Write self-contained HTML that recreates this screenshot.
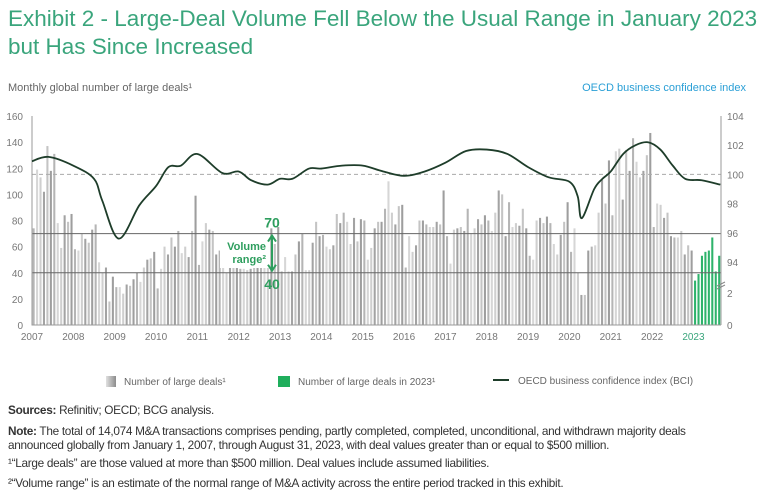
<!DOCTYPE html>
<html><head><meta charset="utf-8">
<style>
body{margin:0;width:768px;height:500px;background:#fff;font-family:"Liberation Sans",sans-serif;overflow:hidden;position:relative}
.t{position:absolute;white-space:nowrap}
#title{left:8px;top:5px;color:#3aa57c;font-size:22.5px;line-height:28px;letter-spacing:0}
.foot{font-size:11.8px;color:#333;letter-spacing:-0.3px;left:8px}
</style></head><body>
<div class="t" id="title">Exhibit 2 - Large-Deal Volume Fell Below the Usual Range in January 2023<br>but Has Since Increased</div>
<div class="t" style="left:8px;top:82px;font-size:11px;color:#666">Monthly global number of large deals¹</div>
<div class="t" style="right:22px;top:82px;font-size:11px;color:#2a9fd6">OECD business confidence index</div>
<svg id="chart" width="768" height="400" style="position:absolute;left:0;top:0"></svg>
<div class="t" style="left:106px;top:376px;font-size:10px;color:#666"><span style="display:inline-block;width:10px;height:11px;background:linear-gradient(90deg,#e0e0e0,#8c8c8c);vertical-align:-2px;margin-right:8px"></span>Number of large deals¹</div>
<div class="t" style="left:278px;top:376px;font-size:10px;color:#666"><span style="display:inline-block;width:12px;height:11px;background:#1fae5c;vertical-align:-2px;margin-right:8px"></span>Number of large deals in 2023¹</div>
<div class="t" style="left:493px;top:376px;font-size:10px;color:#666"><span style="display:inline-block;width:16px;height:2px;background:#1e3d2a;vertical-align:3px;margin-right:9px"></span>OECD business confidence index (BCI)</div>
<div class="t foot" style="top:403px"><b>Sources:</b> Refinitiv; OECD; BCG analysis.</div>
<div class="t foot" style="top:424px;line-height:14px"><b>Note:</b> The total of 14,074 M&amp;A transactions comprises pending, partly completed, completed, unconditional, and withdrawn majority deals<br>announced globally from January 1, 2007, through August 31, 2023, with deal values greater than or equal to $500 million.</div>
<div class="t foot" style="top:456px">¹“Large deals” are those valued at more than $500 million. Deal values include assumed liabilities.</div>
<div class="t foot" style="top:476px">²“Volume range” is an estimate of the normal range of M&amp;A activity across the entire period tracked in this exhibit.</div>
<script>
const deals=[74,119,113,102,137,118,131,78,59,84,79,85,
58,57,70,66,63,73,77,48,40,44,18,37,
29,29,24,31,30,35,40,33,44,50,51,56,
28,43,60,54,67,60,72,55,60,52,72,99,
46,64,78,73,72,54,57,57,40,44,44,49,
43,43,42,43,45,48,67,47,45,74,62,75,
41,52,41,41,54,64,70,42,42,63,79,68,
69,60,58,61,85,78,86,79,62,82,64,81,
80,50,59,74,79,79,89,110,86,77,91,92,
44,68,56,61,80,80,77,75,75,79,77,103,
68,47,73,74,75,72,89,70,74,81,77,84,
80,72,86,103,100,68,94,75,78,76,89,74,
53,50,80,82,78,83,78,62,54,69,79,94,
56,74,40,23,23,57,60,61,86,111,93,126,
84,133,135,96,134,118,143,125,113,118,130,147,
75,93,92,82,86,68,67,67,72,54,61,57,
34,39,53,56,57,67,41,53];
const bciT=[2007,2007.4,2008,2008.5,2008.7,2009.1,2009.6,2010,2010.3,2010.6,2011,2011.6,2012,2012.3,2012.7,2013,2013.3,2013.7,2014,2014.5,2015,2015.5,2016,2016.5,2017,2017.5,2018,2018.5,2019,2019.5,2020,2020.2,2020.3,2020.6,2020.8,2021,2021.3,2021.6,2021.9,2022.2,2022.5,2022.8,2023.2,2023.65];
const bciV=[100.9,101.2,100.6,99.7,98.2,95.6,97.9,99.2,100.5,100.6,101.4,100.1,100.2,99.6,99.3,99.7,99.7,100.4,100.4,100.6,100.6,100.2,99.9,100.2,100.8,101.6,101.7,101.4,100.5,99.8,99.5,98.5,97.0,99.0,99.7,100.2,101.4,102.0,102.2,101.7,100.6,99.7,99.6,99.3];
const leftTicks=[0,20,40,60,80,100,120,140,160];
const rightTicks=[104,102,100,98,96,94];
const years=[2007,2008,2009,2010,2011,2012,2013,2014,2015,2016,2017,2018,2019,2020,2021,2022,2023];
const X0=32,X1=721,Y0=325,Y1=116;
const yL=v=>Y0-(v/160)*(Y0-Y1);
const yR=v=>Y1+(104-v)*14.6;
const n=deals.length,step=(X1-X0)/n;
const xT=t=>X0+(t-2007)*12*step;
const svg=document.getElementById('chart');const NS='http://www.w3.org/2000/svg';
function mk(tag,at){const e=document.createElementNS(NS,tag);for(const k in at)e.setAttribute(k,at[k]);svg.appendChild(e);return e;}
deals.forEach((v,i)=>{const yr=2007+Math.floor(i/12);const g=yr===2023;
const shade=['#b5b5b5','#d6d6d6','#cfcfcf','#a3a3a3','#c4c4c4','#9e9e9e'][i%6];
const r=mk('rect',{x:X0+i*step+0.6,y:yL(v),width:step*0.6,height:Y0-yL(v),fill:g?'#2eb36b':shade});

});
[70,40].forEach(v=>{const l=mk('line',{x1:X0,x2:X1,y1:yL(v),y2:yL(v),stroke:'#666','stroke-width':1});
});
const d=mk('line',{x1:X0,x2:X1,y1:yR(100),y2:yR(100),stroke:'#aaa','stroke-dasharray':'4,3'});

const ax=mk('path',{d:`M${X0},${Y1}V${Y0}H${X1}M${X1},${Y1}V${Y0}`,stroke:'#999',fill:'none'});

leftTicks.forEach(v=>{const t=mk('text',{x:23,y:yL(v)+4,'text-anchor':'end','font-size':10,fill:'#777'});t.textContent=v;
});
rightTicks.forEach(v=>{const t=mk('text',{x:727,y:yR(v)+4,'font-size':10,fill:'#777'});t.textContent=v;
});
[[2,297],[0,329]].forEach(p=>{const t=mk('text',{x:727,y:p[1],'font-size':10,fill:'#777'});t.textContent=p[0];
});
const br=mk('path',{d:`M${X1-4},${286}L${X1+4},${282}M${X1-4},${289}L${X1+4},${285}`,stroke:'#888','stroke-width':1});

years.forEach(y=>{const t=mk('text',{x:xT(y),y:340,'text-anchor':'middle','font-size':10,fill:y===2023?'#3aa57c':'#777'});t.textContent=y;
});
const pts=bciT.map((t,i)=>[xT(t),yR(bciV[i])]);
let p=`M${pts[0][0]},${pts[0][1]}`;
for(let i=0;i<pts.length-1;i++){const a=pts[Math.max(0,i-1)],b=pts[i],c=pts[i+1],e=pts[Math.min(pts.length-1,i+2)];
p+=`C${b[0]+(c[0]-a[0])/6},${b[1]+(c[1]-a[1])/6} ${c[0]-(e[0]-b[0])/6},${c[1]-(e[1]-b[1])/6} ${c[0]},${c[1]}`;}
const ln=mk('path',{d:p,stroke:'#1e3d2a','stroke-width':1.8,fill:'none'});

const ax2=272;
const bg=mk('rect',{x:220,y:236,width:50,height:32,fill:'#fff'});
const ar=mk('path',{d:`M${ax2},${yL(70)+2}V${yL(40)-2}M${ax2-4},${yL(70)+8}L${ax2},${yL(70)+2}L${ax2+4},${yL(70)+8}M${ax2-4},${yL(40)-8}L${ax2},${yL(40)-2}L${ax2+4},${yL(40)-8}`,stroke:'#2e9e5e','stroke-width':2,fill:'none'});

[['70',yL(70)-6,14],['40',yL(40)+16,14]].forEach(q=>{const t=mk('text',{x:ax2,y:q[1],'text-anchor':'middle','font-size':q[2],'font-weight':'bold',fill:'#2e9e5e'});t.textContent=q[0];
});
[['Volume',250],['range²',263]].forEach(q=>{const t=mk('text',{x:ax2-6,y:q[1],'text-anchor':'end','font-size':11,'font-weight':'bold',fill:'#2e9e5e'});t.textContent=q[0];
});
</script>
</body></html>
